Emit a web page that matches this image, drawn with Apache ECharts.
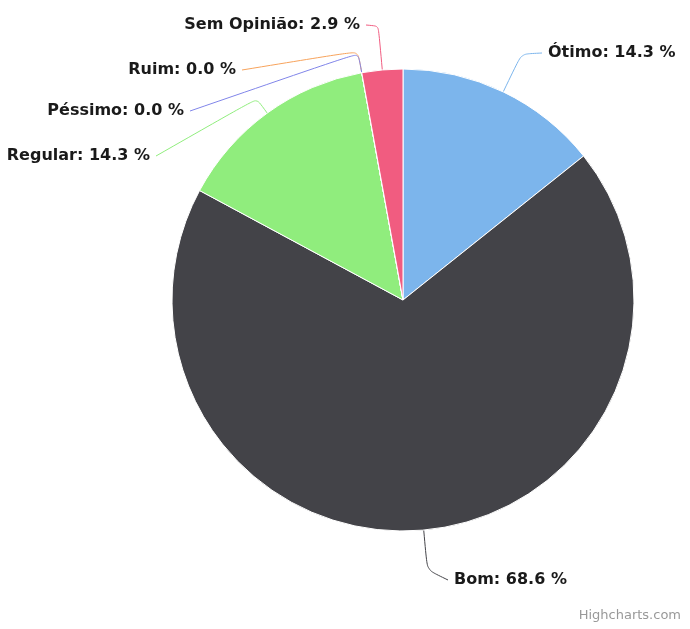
<!DOCTYPE html>
<html><head><meta charset="utf-8">
<script src="https://cdn.jsdelivr.net/npm/echarts@6/dist/echarts.min.js"></script>
<style>html,body{margin:0;padding:0;background:#fff}#c{width:690px;height:629px}</style>
</head><body><div id="c"></div>
<script>
const categories = ['Ótimo', 'Bom', 'Regular', 'Ruim', 'Péssimo', 'Sem Opinião'];
const values = [5, 24, 5, 0, 0, 1];
const colors = ['#7cb5ec', '#434348', '#90ed7d', '#f7a35c', '#8085e9', '#f15c80'];
const total = values.reduce((a, b) => a + b, 0);

// layout (not data): pie geometry and label anchor placement
const CX = 403, CY = 300, R = 231;
const labelAnchors = [
  { x: 548, y: 53, align: 'left', bend: 42 },
  { x: 454, y: 580, align: 'left', bend: 40 },
  { x: 150, y: 156, align: 'right', bend: 18 },
  { x: 236, y: 70, align: 'right', bend: 22 },
  { x: 184, y: 111, align: 'right', bend: 20 },
  { x: 360, y: 25, align: 'right', bend: 44 }
];

function polar(angDeg, rad) {
  const a = angDeg * Math.PI / 180;
  return [CX + rad * Math.sin(a), CY - rad * Math.cos(a)];
}
const midAngles = [];
{
  let acc = 0;
  values.forEach(v => { midAngles.push((acc + v / 2) / total * 360); acc += v; });
}

const chart = echarts.init(document.getElementById('c'));
chart.setOption({
  animation: false,
  color: colors,
  title: {
    text: 'Highcharts.com', right: 4, bottom: 2,
    textStyle: { color: '#999', fontSize: 13, fontWeight: 'normal', fontFamily: 'DejaVu Sans' }
  },
  series: [{
    type: 'pie',
    center: [CX, CY],
    radius: R,
    startAngle: 90,
    clockwise: true,
    avoidLabelOverlap: false,
    data: categories.map((c, i) => ({ name: c, value: values[i] })),
    itemStyle: { borderColor: '#fff', borderWidth: 1 },
    label: {
      show: true,
      formatter: p => p.name + ': ' + (p.value / total * 100).toFixed(1) + ' %',
      fontFamily: 'DejaVu Sans', fontWeight: 'bold', fontSize: 16, color: '#1a1a1a'
    },
    labelLine: { show: true, length: 20, length2: 10, smooth: 0.2, lineStyle: { width: 1 } },
    labelLayout: function (params) {
      const i = params.dataIndex;
      const a = labelAnchors[i];
      const m = midAngles[i];
      const edge = polar(m, R);
      const bend = polar(m, R + a.bend);
      const end = [a.x + (a.align === 'left' ? -6 : 6), a.y];
      return {
        x: a.x, y: a.y, align: a.align, verticalAlign: 'middle',
        labelLinePoints: [edge, bend, end]
      };
    },
    emphasis: { disabled: true }
  }]
});
</script></body></html>
